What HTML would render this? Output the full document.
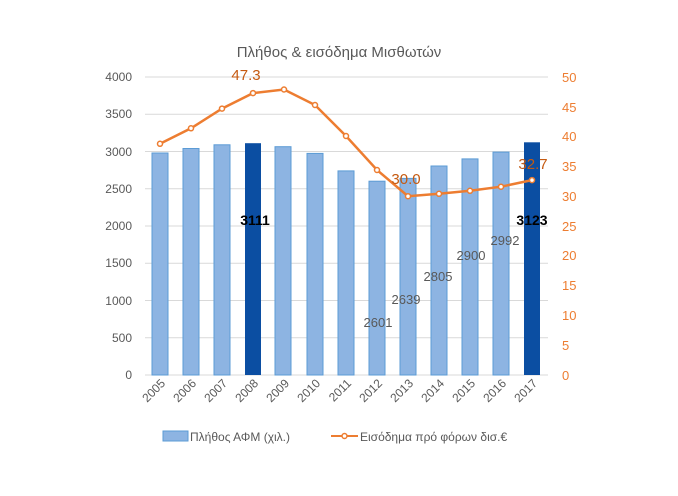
<!DOCTYPE html>
<html><head><meta charset="utf-8"><style>
body{margin:0;background:#fff}
svg{display:block;font-family:"Liberation Sans","DejaVu Sans",sans-serif}
</style></head><body>
<svg width="678" height="496" viewBox="0 0 678 496">
<text x="339" y="57" text-anchor="middle" font-size="15" fill="#595959">Πλήθος &amp; εισόδημα Μισθωτών</text>
<g stroke="#d9d9d9" stroke-width="1">
<line x1="145" x2="548" y1="77" y2="77"/><line x1="145" x2="548" y1="114.25" y2="114.25"/>
<line x1="145" x2="548" y1="151.5" y2="151.5"/><line x1="145" x2="548" y1="188.75" y2="188.75"/>
<line x1="145" x2="548" y1="226" y2="226"/><line x1="145" x2="548" y1="263.25" y2="263.25"/>
<line x1="145" x2="548" y1="300.5" y2="300.5"/><line x1="145" x2="548" y1="337.75" y2="337.75"/>
<line x1="145" x2="548" y1="375" y2="375"/>
</g>
<g font-size="12" fill="#595959" text-anchor="end">
<text x="132" y="81">4000</text><text x="132" y="118">3500</text><text x="132" y="156">3000</text>
<text x="132" y="193">2500</text><text x="132" y="230">2000</text><text x="132" y="267">1500</text>
<text x="132" y="305">1000</text><text x="132" y="342">500</text><text x="132" y="379">0</text>
</g>
<g font-size="13" fill="#ed7d31">
<text x="562" y="82">50</text><text x="562" y="112">45</text><text x="562" y="141">40</text>
<text x="562" y="171">35</text><text x="562" y="201">30</text><text x="562" y="231">25</text>
<text x="562" y="260">20</text><text x="562" y="290">15</text><text x="562" y="320">10</text>
<text x="562" y="350">5</text><text x="562" y="380">0</text>
</g>
<g fill="#8db4e2" stroke="#5b9bd5" stroke-width="1">
<rect x="152" y="153" width="16" height="222"/>
<rect x="183" y="148.5" width="16" height="226.5"/>
<rect x="214" y="144.8" width="16" height="230.2"/>
<rect x="275" y="146.7" width="16" height="228.3"/>
<rect x="307" y="153.4" width="16" height="221.6"/>
<rect x="338" y="170.9" width="16" height="204.1"/>
<rect x="369" y="181.2" width="16" height="193.8"/>
<rect x="400" y="178.4" width="16" height="196.6"/>
<rect x="431" y="166" width="16" height="209"/>
<rect x="462" y="158.9" width="16" height="216.1"/>
<rect x="493" y="152.1" width="16" height="222.9"/>
</g>
<rect x="245" y="143.2" width="16" height="231.8" fill="#0b4ea2"/>
<rect x="524" y="142.3" width="16" height="232.7" fill="#0b4ea2"/>
<polyline fill="none" stroke="#ed7d31" stroke-width="2.5" points="160,143.8 191,128.3 222,108.6 253,93.1 284,89.5 315,105 346,136 377,170 408,196.2 439,193.8 470,190.8 501,186.7 532,180.1"/>
<g fill="#fff" stroke="#ed7d31" stroke-width="1.5">
<circle cx="160" cy="143.8" r="2.5"/><circle cx="191" cy="128.3" r="2.5"/><circle cx="222" cy="108.6" r="2.5"/>
<circle cx="253" cy="93.1" r="2.5"/><circle cx="284" cy="89.5" r="2.5"/><circle cx="315" cy="105" r="2.5"/>
<circle cx="346" cy="136" r="2.5"/><circle cx="377" cy="170" r="2.5"/><circle cx="408" cy="196.2" r="2.5"/>
<circle cx="439" cy="193.8" r="2.5"/><circle cx="470" cy="190.8" r="2.5"/><circle cx="501" cy="186.7" r="2.5"/>
<circle cx="532" cy="180.1" r="2.5"/>
</g>
<g font-size="14" font-weight="bold" fill="#000" text-anchor="middle">
<text x="255" y="225">3111</text><text x="532" y="225">3123</text>
</g>
<g font-size="13" fill="#595959" text-anchor="middle">
<text x="378" y="327">2601</text><text x="406" y="304">2639</text><text x="438" y="281">2805</text>
<text x="471" y="260">2900</text><text x="505" y="245">2992</text>
</g>
<g font-size="15" fill="#c55a11" text-anchor="middle">
<text x="246" y="80">47.3</text><text x="406" y="184">30.0</text><text x="533" y="169">32.7</text>
</g>
<g font-size="12" fill="#595959" text-anchor="end">
<text transform="translate(166,384) rotate(-45)">2005</text>
<text transform="translate(197,384) rotate(-45)">2006</text>
<text transform="translate(228,384) rotate(-45)">2007</text>
<text transform="translate(259,384) rotate(-45)">2008</text>
<text transform="translate(290,384) rotate(-45)">2009</text>
<text transform="translate(321,384) rotate(-45)">2010</text>
<text transform="translate(352,384) rotate(-45)">2011</text>
<text transform="translate(383,384) rotate(-45)">2012</text>
<text transform="translate(414,384) rotate(-45)">2013</text>
<text transform="translate(445,384) rotate(-45)">2014</text>
<text transform="translate(476,384) rotate(-45)">2015</text>
<text transform="translate(507,384) rotate(-45)">2016</text>
<text transform="translate(538,384) rotate(-45)">2017</text>
</g>
<rect x="163" y="431" width="25" height="10" fill="#8db4e2" stroke="#5b9bd5"/>
<text x="190" y="441" font-size="12" fill="#595959">Πλήθος ΑΦΜ (χιλ.)</text>
<line x1="331" x2="358" y1="436" y2="436" stroke="#ed7d31" stroke-width="2"/>
<circle cx="344.5" cy="436" r="2.5" fill="#fff" stroke="#ed7d31" stroke-width="1.5"/>
<text x="360" y="441" font-size="12" fill="#595959">Εισόδημα πρό φόρων δισ.€</text>
</svg>
</body></html>
